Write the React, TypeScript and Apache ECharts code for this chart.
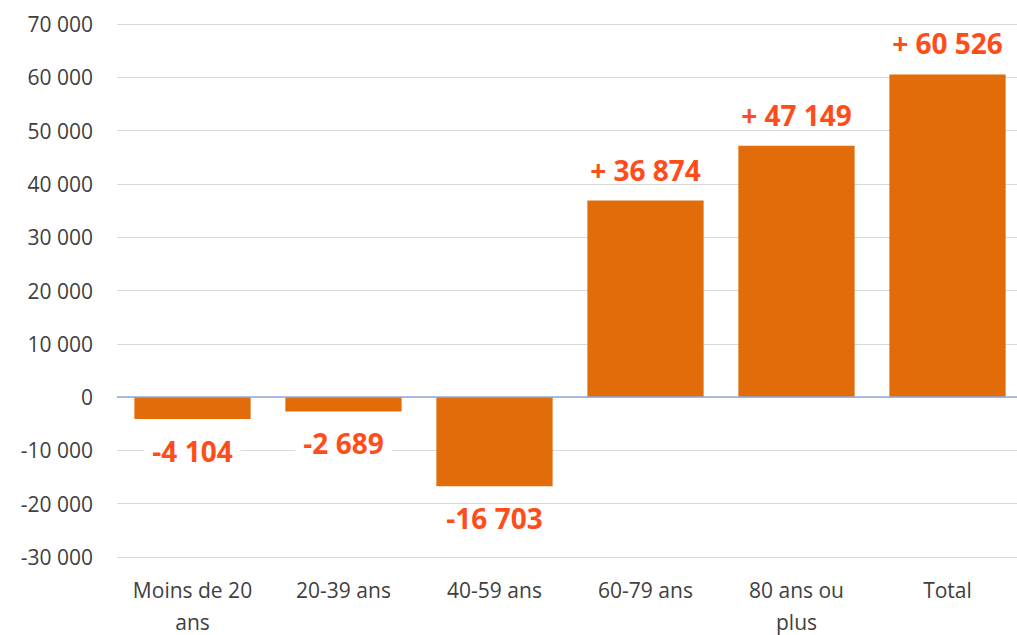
import React, { useEffect, useRef } from "react";
import * as echarts from "echarts";

const categories = ["Moins de 20\nans", "20-39 ans", "40-59 ans", "60-79 ans", "80 ans ou\nplus", "Total"];
const values = [-4104, -2689, -16703, 36874, 47149, 60526];
const yMin = -30000;
const yMax = 70000;
const yInterval = 10000;

const fmt = (v: number) => {
  const s = Math.abs(v).toString().replace(/\B(?=(\d{3})+(?!\d))/g, " ");
  return v < 0 ? "-" + s : v > 0 ? s : "0";
};

export default function App() {
  const ref = useRef<HTMLDivElement>(null);
  useEffect(() => {
    document.body.style.margin = "0";
    document.body.style.overflow = "hidden";
    const chart = echarts.init(ref.current!, null, { renderer: "svg" });
    chart.setOption({
      animation: false,
      grid: {
        left: 117,
        top: 24,
        width: 906,
        height: 533,
        containLabel: false,
        outerBoundsMode: "none",
      },
      xAxis: {
        type: "category",
        data: categories,
        axisLine: { show: false },
        axisTick: { show: false },
        axisLabel: {
          color: "#404040",
          fontFamily: "Open Sans",
          fontSize: 21,
          lineHeight: 32,
          margin: 17,
          interval: 0,
        },
      },
      yAxis: {
        type: "value",
        min: yMin,
        max: yMax,
        interval: yInterval,
        axisLine: { show: false },
        axisTick: { show: false },
        splitLine: { lineStyle: { color: "#D9D9D9", width: 1 } },
        axisLabel: {
          color: "#404040",
          fontFamily: "Open Sans",
          fontSize: 21,
          margin: 24,
          formatter: (v: number) => fmt(v),
        },
      },
      series: [
        {
          type: "bar",
          data: values.map((v) => ({
            value: v,
            label: { position: v < 0 ? "bottom" : "top", distance: v < 0 ? 18 : 17 },
          })),
          barCategoryGap: "23%",
          itemStyle: { color: "#E36C0A" },
          label: {
            show: true,
            color: "#FF4D1A",
            fontFamily: "Open Sans",
            fontWeight: "bold",
            fontSize: 28,
            backgroundColor: "#FFFFFF",
            padding: [0, 8],
            formatter: (p: any) => (p.value > 0 ? "+ " + fmt(p.value) : fmt(p.value)),
          },
          markLine: {
            silent: true,
            symbol: "none",
            z: 10,
            label: { show: false },
            lineStyle: { color: "#8FAADC", type: "solid", width: 1.5 },
            data: [{ yAxis: 0 }],
          },
        },
      ],
    });
    return () => chart.dispose();
  }, []);
  return (
    <div
      ref={ref}
      style={{ position: "fixed", left: 0, top: 0, width: 1023, height: 635, background: "#fff" }}
    />
  );
}
